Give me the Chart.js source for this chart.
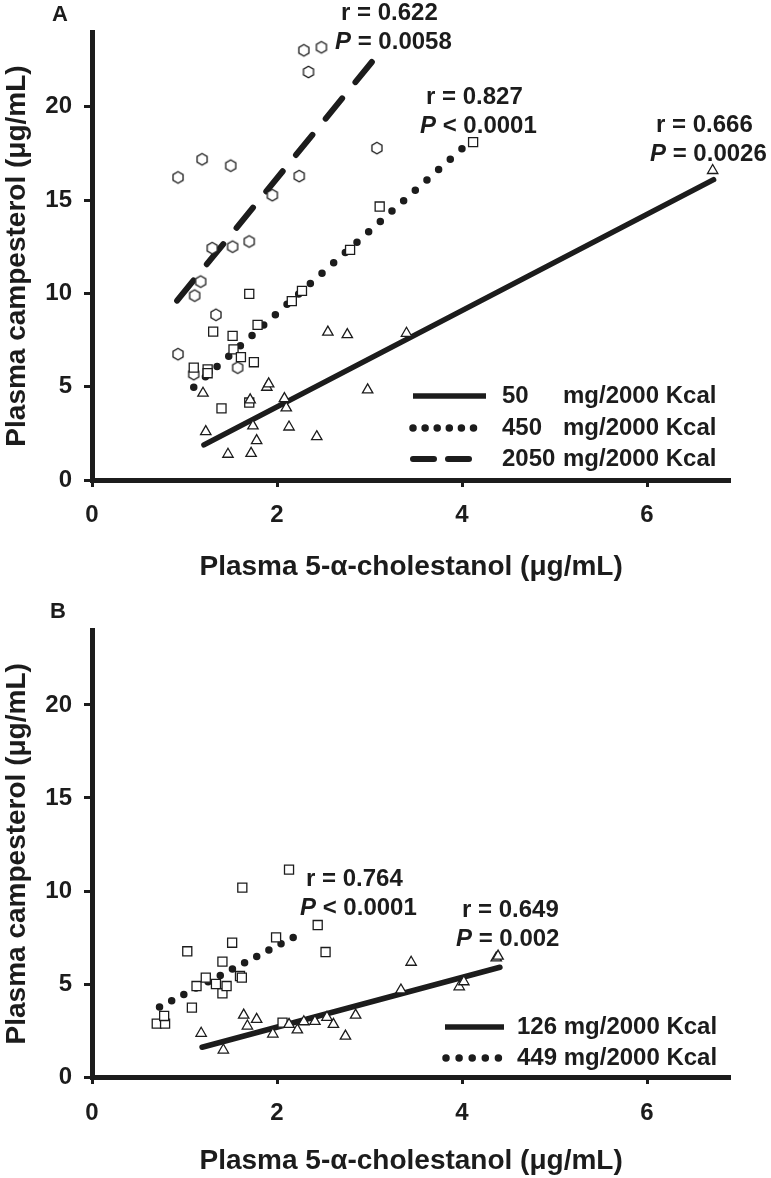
<!DOCTYPE html>
<html><head><meta charset="utf-8">
<script src="https://cdn.jsdelivr.net/npm/chart.js@4.4.1/dist/chart.umd.min.js"></script>
<style>
html,body{margin:0;padding:0;background:#fff;}
#wrap{position:relative;width:771px;height:1178px;background:#fff;}
.panel{position:absolute;left:0;width:771px;height:589px;}
</style></head><body>
<div id="wrap">
<div class="panel" style="top:0"><canvas id="cA" width="771" height="589"></canvas></div>
<div class="panel" style="top:589px"><canvas id="cB" width="771" height="589"></canvas></div>
</div>
<script>
// ---------- DATA ----------
const xTicks = [0, 2, 4, 6];
const yTicks = [0, 5, 10, 15, 20];
const xTitle = 'Plasma 5-\u03b1-cholestanol (\u03bcg/mL)';
const yTitle = 'Plasma campesterol (\u03bcg/mL)';

// Panel A — 50 mg/2000 Kcal (triangles)
const a50X = [1.20, 1.23, 1.47, 1.72, 1.74, 1.78, 1.71, 1.89, 1.91, 2.08, 2.10, 2.13, 2.43, 2.55, 2.76, 2.98, 3.40, 6.71];
const a50Y = [4.65, 2.59, 1.38, 1.43, 2.90, 2.11, 4.29, 4.97, 5.15, 4.36, 3.86, 2.84, 2.32, 7.92, 7.79, 4.83, 7.86, 16.58];
// Panel A — 450 mg/2000 Kcal (squares)
const a450X = [1.10, 1.25, 1.25, 1.31, 1.40, 1.52, 1.53, 1.61, 1.70, 1.70, 1.75, 1.79, 2.16, 2.27, 2.79, 3.11, 4.12];
const a450Y = [6.02, 5.93, 5.72, 7.95, 3.84, 7.72, 7.00, 6.58, 4.15, 9.97, 6.31, 8.31, 9.58, 10.13, 12.33, 14.65, 18.10];
// Panel A — 2050 mg/2000 Kcal (hexagons)
const a2050X = [2.29, 2.48, 2.34, 1.19, 1.50, 0.93, 2.24, 3.08, 1.95, 1.70, 1.30, 1.52, 1.175, 1.11, 1.34, 0.93, 1.10, 1.575];
const a2050Y = [23.02, 23.18, 21.86, 17.18, 16.84, 16.21, 16.28, 17.78, 15.26, 12.78, 12.42, 12.50, 10.63, 9.88, 8.85, 6.74, 5.67, 6.02];
// Panel A regression lines (end points)
const a50FitX = [1.21, 6.72];   const a50FitY = [1.88, 16.09];
const a450FitX = [1.10, 4.07];  const a450FitY = [4.97, 18.05];
const a2050FitX = [0.92, 3.04]; const a2050FitY = [9.61, 22.48];
const aStats = [['0.622', '=', '0.0058'], ['0.827', '<', '0.0001'], ['0.666', '=', '0.0026']];
const aLegendDose = ['50', '450', '2050'];

// Panel B — 126 mg/2000 Kcal (triangles)
const b126X = [1.18, 1.42, 1.64, 1.68, 1.78, 1.955, 2.13, 2.22, 2.29, 2.41, 2.54, 2.61, 2.74, 2.85, 3.34, 3.45, 3.97, 4.02, 4.37, 4.39];
const b126Y = [2.35, 1.45, 3.33, 2.74, 3.10, 2.31, 2.83, 2.53, 2.97, 2.99, 3.21, 2.83, 2.20, 3.33, 4.68, 6.17, 4.85, 5.12, 6.40, 6.50];
// Panel B — 449 mg/2000 Kcal (squares)
const b449X = [0.70, 0.79, 0.78, 1.08, 1.03, 1.13, 1.23, 1.34, 1.41, 1.455, 1.41, 1.515, 1.60, 1.62, 1.625, 1.99, 2.13, 2.44, 2.525, 2.06];
const b449Y = [2.87, 2.87, 3.28, 3.73, 6.76, 4.89, 5.34, 5.00, 4.50, 4.89, 6.20, 7.22, 5.43, 5.34, 10.18, 7.51, 11.15, 8.17, 6.72, 2.92];
// Panel B regression lines
const b126FitX = [1.19, 4.41]; const b126FitY = [1.60, 5.90];
const b449FitX = [0.73, 2.29]; const b449FitY = [3.76, 7.80];
const bStats = [['0.764', '<', '0.0001'], ['0.649', '=', '0.002']];
const bLegendDose = ['126', '449'];
const doseUnit = 'mg/2000 Kcal';

// ---------- STYLE ----------
const FONT = "'Liberation Sans', Arial, Helvetica, sans-serif";
const INK = '#1c1c1c';
const pts = (xs, ys) => xs.map((x, i) => ({x: x, y: ys[i]}));

function hexagon() {
  const c = document.createElement('canvas');
  c.width = 16; c.height = 16;
  const g = c.getContext('2d');
  g.beginPath();
  for (let i = 0; i < 6; i++) {
    const a = Math.PI / 3 * i - Math.PI / 2;
    g.lineTo(8 + 5.8 * Math.cos(a), 8 + 5.8 * Math.sin(a));
  }
  g.closePath();
  g.fillStyle = '#fff'; g.fill();
  g.lineWidth = 1.3; g.strokeStyle = INK; g.stroke();
  return c;
}
const HEX = hexagon();

function markerSet(data, style, radius) {
  return {type: 'scatter', data: data, pointStyle: style, pointRadius: radius, pointHoverRadius: radius,
    backgroundColor: '#fff', borderColor: INK, borderWidth: 1.3, order: 0};
}
function fitLine(data, kind) {
  const d = {type: 'line', data: data, showLine: true, pointRadius: 0, pointHoverRadius: 0,
    borderColor: INK, fill: false, tension: 0, borderCapStyle: 'round', order: 1};
  if (kind === 'solid') { d.borderWidth = 5.5; d.borderDash = []; }
  if (kind === 'dot') { d.borderWidth = 7.5; d.borderDash = [0, 15.6]; }
  if (kind === 'dot2') { d.borderWidth = 7.5; d.borderDash = [0, 13.7]; }
  if (kind === 'dash') { d.borderWidth = 6; d.borderDash = [26, 21]; }
  return d;
}

function statText(ctx, x, y, r, op, p) {
  ctx.save();
  ctx.fillStyle = INK;
  ctx.textBaseline = 'middle';
  ctx.textAlign = 'left';
  ctx.font = 'bold 24px ' + FONT;
  ctx.fillText('r = ' + r, x + 6, y);
  ctx.font = 'italic bold 24px ' + FONT;
  ctx.fillText('P', x, y + 29);
  const w = ctx.measureText('P').width;
  ctx.font = 'bold 24px ' + FONT;
  ctx.fillText(' ' + op + ' ' + p, x + w, y + 29);
  ctx.restore();
}

function legendSample(ctx, x1, x2, y, kind) {
  ctx.save();
  ctx.strokeStyle = INK;
  ctx.beginPath();
  if (kind === 'solid') { ctx.lineWidth = 5.5; ctx.lineCap = 'butt'; ctx.setLineDash([]); }
  if (kind === 'dot') { ctx.lineWidth = 7.5; ctx.lineCap = 'round'; ctx.setLineDash([0, 12.1]); }
  if (kind === 'dot2') { ctx.lineWidth = 7.5; ctx.lineCap = 'round'; ctx.setLineDash([0, 13.1]); }
  if (kind === 'dash') { ctx.lineWidth = 6; ctx.lineCap = 'round'; ctx.setLineDash([21, 14]); }
  ctx.moveTo(x1, y); ctx.lineTo(x2, y);
  ctx.stroke();
  ctx.restore();
}

function label(ctx, txt, x, y, size) {
  ctx.save();
  ctx.fillStyle = INK;
  ctx.font = 'bold ' + size + 'px ' + FONT;
  ctx.textBaseline = 'middle';
  ctx.textAlign = 'center';
  ctx.fillText(txt, x, y);
  ctx.restore();
}

function baseOptions(pad) {
  const tickFont = {family: FONT, size: 24, weight: 'bold'};
  const titleFont = {family: FONT, size: 28, weight: 'bold', lineHeight: 1.2};
  return {
    responsive: false, animation: false, devicePixelRatio: 1,
    layout: {padding: {top: pad.top, right: pad.right, left: 0, bottom: 0}},
    plugins: {legend: {display: false}, tooltip: {enabled: false}},
    scales: {
      x: {
        type: 'linear', min: 0, max: 6.9,
        afterBuildTicks: s => { s.ticks = xTicks.map(v => ({value: v})); },
        afterFit: s => { s.height = pad.xh; },
        grid: {drawOnChartArea: false, drawTicks: true, tickLength: 7, tickWidth: 3, tickColor: INK},
        border: {display: true, width: 5, color: INK},
        ticks: {font: tickFont, color: INK, padding: pad.xtp, maxRotation: 0},
        title: {display: true, text: xTitle, font: titleFont, color: INK, padding: {top: 0, bottom: pad.tb}}
      },
      y: {
        type: 'linear', min: 0, max: 24,
        afterBuildTicks: s => { s.ticks = yTicks.map(v => ({value: v})); },
        afterFit: s => { s.width = 92; },
        grid: {drawOnChartArea: false, drawTicks: true, tickLength: 8, tickWidth: 3, tickColor: INK},
        border: {display: true, width: 5, color: INK},
        ticks: {font: tickFont, color: INK, padding: 12},
        title: {display: true, text: yTitle, font: titleFont, color: INK, padding: {top: 0, bottom: 0}}
      }
    }
  };
}

// ---------- PANEL A ----------
new Chart(document.getElementById('cA'), {
  type: 'scatter',
  data: {datasets: [
    markerSet(pts(a50X, a50Y), 'triangle', 6),
    markerSet(pts(a450X, a450Y), 'rect', 6.4),
    markerSet(pts(a2050X, a2050Y), HEX, 6),
    fitLine(pts(a50FitX, a50FitY), 'solid'),
    fitLine(pts(a450FitX, a450FitY), 'dot'),
    fitLine(pts(a2050FitX, a2050FitY), 'dash')
  ]},
  options: baseOptions({top: 32, right: 40.75, xh: 109, xtp: 14, tb: 5}),
  plugins: [{
    id: 'annA',
    afterDraw(chart) {
      const ctx = chart.ctx;
      label(ctx, 'A', 60, 15, 22);
      statText(ctx, 335, 13, aStats[0][0], aStats[0][1], aStats[0][2]);
      statText(ctx, 420, 97, aStats[1][0], aStats[1][1], aStats[1][2]);
      statText(ctx, 650, 125, aStats[2][0], aStats[2][1], aStats[2][2]);
      const kinds = ['solid', 'dot', 'dash'];
      const ends = [486, 474, 473];
      const ys = [396, 428, 459];
      ctx.save();
      ctx.fillStyle = INK; ctx.font = 'bold 24px ' + FONT; ctx.textBaseline = 'middle'; ctx.textAlign = 'left';
      aLegendDose.forEach((d, i) => {
        legendSample(ctx, 413, ends[i], ys[i], kinds[i]);
        ctx.fillText(d, 502, ys[i]);
        ctx.fillText(doseUnit, 563, ys[i]);
      });
      ctx.restore();
    }
  }]
});

// ---------- PANEL B ----------
new Chart(document.getElementById('cB'), {
  type: 'scatter',
  data: {datasets: [
    markerSet(pts(b126X, b126Y), 'triangle', 6),
    markerSet(pts(b449X, b449Y), 'rect', 6.4),
    fitLine(pts(b126FitX, b126FitY), 'solid'),
    fitLine(pts(b449FitX, b449FitY), 'dot2')
  ]},
  options: baseOptions({top: 41.6, right: 40.75, xh: 101, xtp: 15, tb: 0}),
  plugins: [{
    id: 'annB',
    afterDraw(chart) {
      const ctx = chart.ctx;
      label(ctx, 'B', 58, 23, 22);
      statText(ctx, 300, 290, bStats[0][0], bStats[0][1], bStats[0][2]);
      statText(ctx, 456, 321, bStats[1][0], bStats[1][1], bStats[1][2]);
      const kinds = ['solid', 'dot2'];
      const starts = [445, 446];
      const ends = [504, 499.5];
      const ys = [438, 469];
      ctx.save();
      ctx.fillStyle = INK; ctx.font = 'bold 24px ' + FONT; ctx.textBaseline = 'middle'; ctx.textAlign = 'left';
      bLegendDose.forEach((d, i) => {
        legendSample(ctx, starts[i], ends[i], ys[i], kinds[i]);
        ctx.fillText(d + ' ' + doseUnit, 517, ys[i]);
      });
      ctx.restore();
    }
  }]
});
</script>
</body></html>
